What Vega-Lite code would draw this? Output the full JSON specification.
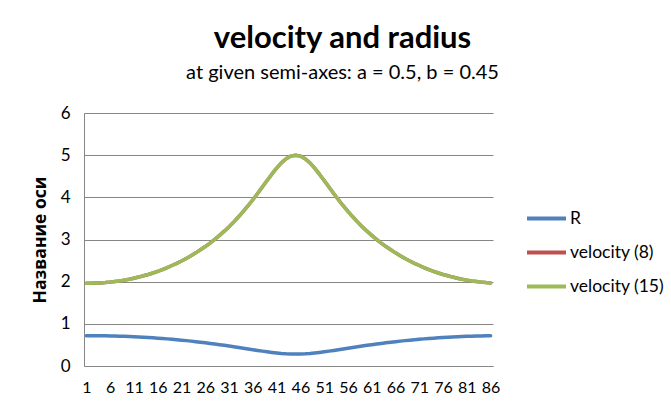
{
  "$schema": "https://vega.github.io/schema/vega-lite/v6.json",
  "width": 409,
  "height": 253,
  "autosize": {"type": "none"},
  "padding": {"left": 84, "top": 113, "right": 178, "bottom": 44},
  "background": "white",
  "title": {
    "text": "velocity and radius",
    "subtitle": "at given semi-axes: a = 0.5, b = 0.45",
    "font": "Lato",
    "fontSize": 31,
    "fontWeight": "bold",
    "color": "black",
    "subtitleFont": "Lato",
    "subtitleFontSize": 20,
    "subtitleColor": "black",
    "anchor": "middle",
    "dx": 54,
    "offset": 20,
    "subtitlePadding": 8
  },
  "data": {"values": [
    {"i":1,"R":0.7178,"v8":1.965,"v15":1.965},
    {"i":2,"R":0.7179,"v8":1.964,"v15":1.964},
    {"i":3,"R":0.7175,"v8":1.967,"v15":1.967},
    {"i":4,"R":0.7165,"v8":1.971,"v15":1.971},
    {"i":5,"R":0.7151,"v8":1.978,"v15":1.978},
    {"i":6,"R":0.7130,"v8":1.989,"v15":1.989},
    {"i":7,"R":0.7103,"v8":2.002,"v15":2.002},
    {"i":8,"R":0.7071,"v8":2.017,"v15":2.017},
    {"i":9,"R":0.7033,"v8":2.036,"v15":2.036},
    {"i":10,"R":0.6990,"v8":2.057,"v15":2.057},
    {"i":11,"R":0.6938,"v8":2.082,"v15":2.082},
    {"i":12,"R":0.6883,"v8":2.109,"v15":2.109},
    {"i":13,"R":0.6823,"v8":2.139,"v15":2.139},
    {"i":14,"R":0.6758,"v8":2.171,"v15":2.171},
    {"i":15,"R":0.6686,"v8":2.206,"v15":2.206},
    {"i":16,"R":0.6607,"v8":2.246,"v15":2.246},
    {"i":17,"R":0.6525,"v8":2.287,"v15":2.287},
    {"i":18,"R":0.6433,"v8":2.334,"v15":2.334},
    {"i":19,"R":0.6336,"v8":2.383,"v15":2.383},
    {"i":20,"R":0.6236,"v8":2.435,"v15":2.435},
    {"i":21,"R":0.6128,"v8":2.491,"v15":2.491},
    {"i":22,"R":0.6016,"v8":2.551,"v15":2.551},
    {"i":23,"R":0.5898,"v8":2.614,"v15":2.614},
    {"i":24,"R":0.5770,"v8":2.683,"v15":2.683},
    {"i":25,"R":0.5640,"v8":2.756,"v15":2.756},
    {"i":26,"R":0.5503,"v8":2.833,"v15":2.833},
    {"i":27,"R":0.5360,"v8":2.916,"v15":2.916},
    {"i":28,"R":0.5212,"v8":3.004,"v15":3.004},
    {"i":29,"R":0.5058,"v8":3.098,"v15":3.098},
    {"i":30,"R":0.4899,"v8":3.198,"v15":3.198},
    {"i":31,"R":0.4736,"v8":3.304,"v15":3.304},
    {"i":32,"R":0.4568,"v8":3.418,"v15":3.418},
    {"i":33,"R":0.4396,"v8":3.538,"v15":3.538},
    {"i":34,"R":0.4222,"v8":3.666,"v15":3.666},
    {"i":35,"R":0.4047,"v8":3.801,"v15":3.801},
    {"i":36,"R":0.3871,"v8":3.943,"v15":3.943},
    {"i":37,"R":0.3698,"v8":4.091,"v15":4.091},
    {"i":38,"R":0.3529,"v8":4.244,"v15":4.244},
    {"i":39,"R":0.3368,"v8":4.398,"v15":4.398},
    {"i":40,"R":0.3219,"v8":4.549,"v15":4.549},
    {"i":41,"R":0.3086,"v8":4.691,"v15":4.691},
    {"i":42,"R":0.2975,"v8":4.816,"v15":4.816},
    {"i":43,"R":0.2891,"v8":4.914,"v15":4.914},
    {"i":44,"R":0.2838,"v8":4.978,"v15":4.978},
    {"i":45,"R":0.2821,"v8":5.000,"v15":5.000},
    {"i":46,"R":0.2838,"v8":4.978,"v15":4.978},
    {"i":47,"R":0.2891,"v8":4.914,"v15":4.914},
    {"i":48,"R":0.2975,"v8":4.816,"v15":4.816},
    {"i":49,"R":0.3086,"v8":4.691,"v15":4.691},
    {"i":50,"R":0.3219,"v8":4.549,"v15":4.549},
    {"i":51,"R":0.3368,"v8":4.398,"v15":4.398},
    {"i":52,"R":0.3529,"v8":4.244,"v15":4.244},
    {"i":53,"R":0.3698,"v8":4.091,"v15":4.091},
    {"i":54,"R":0.3871,"v8":3.943,"v15":3.943},
    {"i":55,"R":0.4047,"v8":3.801,"v15":3.801},
    {"i":56,"R":0.4222,"v8":3.666,"v15":3.666},
    {"i":57,"R":0.4396,"v8":3.538,"v15":3.538},
    {"i":58,"R":0.4568,"v8":3.418,"v15":3.418},
    {"i":59,"R":0.4736,"v8":3.304,"v15":3.304},
    {"i":60,"R":0.4899,"v8":3.198,"v15":3.198},
    {"i":61,"R":0.5058,"v8":3.098,"v15":3.098},
    {"i":62,"R":0.5212,"v8":3.004,"v15":3.004},
    {"i":63,"R":0.5360,"v8":2.916,"v15":2.916},
    {"i":64,"R":0.5503,"v8":2.833,"v15":2.833},
    {"i":65,"R":0.5640,"v8":2.756,"v15":2.756},
    {"i":66,"R":0.5770,"v8":2.683,"v15":2.683},
    {"i":67,"R":0.5898,"v8":2.614,"v15":2.614},
    {"i":68,"R":0.6016,"v8":2.551,"v15":2.551},
    {"i":69,"R":0.6128,"v8":2.491,"v15":2.491},
    {"i":70,"R":0.6236,"v8":2.435,"v15":2.435},
    {"i":71,"R":0.6336,"v8":2.383,"v15":2.383},
    {"i":72,"R":0.6433,"v8":2.334,"v15":2.334},
    {"i":73,"R":0.6525,"v8":2.287,"v15":2.287},
    {"i":74,"R":0.6607,"v8":2.246,"v15":2.246},
    {"i":75,"R":0.6686,"v8":2.206,"v15":2.206},
    {"i":76,"R":0.6758,"v8":2.171,"v15":2.171},
    {"i":77,"R":0.6823,"v8":2.139,"v15":2.139},
    {"i":78,"R":0.6883,"v8":2.109,"v15":2.109},
    {"i":79,"R":0.6938,"v8":2.082,"v15":2.082},
    {"i":80,"R":0.6990,"v8":2.057,"v15":2.057},
    {"i":81,"R":0.7033,"v8":2.036,"v15":2.036},
    {"i":82,"R":0.7071,"v8":2.017,"v15":2.017},
    {"i":83,"R":0.7103,"v8":2.002,"v15":2.002},
    {"i":84,"R":0.7130,"v8":1.989,"v15":1.989},
    {"i":85,"R":0.7151,"v8":1.978,"v15":1.978},
    {"i":86,"R":0.7165,"v8":1.971,"v15":1.971}
  ]},
  "transform": [{"fold": ["R", "v8", "v15"], "as": ["series", "value"]}],
  "mark": {"type": "line", "strokeWidth": 3.5, "strokeCap": "round", "strokeJoin": "round"},
  "encoding": {
    "x": {
      "field": "i",
      "type": "ordinal",
      "scale": {"type": "point", "padding": 0.5},
      "axis": {
        "values": [1, 6, 11, 16, 21, 26, 31, 36, 41, 46, 51, 56, 61, 66, 71, 76, 81, 86],
        "title": null,
        "labelAngle": 0,
        "ticks": false,
        "grid": false,
        "domainColor": "#868686",
        "labelFont": "Lato",
        "labelFontSize": 16,
        "labelColor": "black",
        "labelPadding": 13
      }
    },
    "y": {
      "field": "value",
      "type": "quantitative",
      "scale": {"domain": [0, 6], "nice": false},
      "axis": {
        "values": [0, 1, 2, 3, 4, 5, 6],
        "title": "Название оси",
        "titleFont": "Open Sans",
        "titleFontSize": 17.5,
        "titleFontWeight": "bold",
        "titleColor": "black",
        "titlePadding": 11,
        "labelFont": "Lato",
        "labelFontSize": 17,
        "labelColor": "black",
        "labelPadding": 14,
        "ticks": false,
        "domainColor": "#868686",
        "gridColor": "#868686"
      }
    },
    "color": {
      "field": "series",
      "type": "nominal",
      "scale": {"domain": ["R", "v8", "v15"], "range": ["#4F81BD", "#C0504D", "#9BBB59"]},
      "legend": {
        "orient": "none",
        "legendX": 441,
        "legendY": 84,
        "title": null,
        "padding": 0,
        "symbolType": "stroke",
        "symbolSize": 1521,
        "symbolStrokeWidth": 4,
        "labelFont": "Lato",
        "labelFontSize": 17.5,
        "labelColor": "black",
        "labelOffset": 2,
        "rowPadding": 4,
        "labelExpr": "datum.label == 'v8' ? 'velocity (8)' : datum.label == 'v15' ? 'velocity (15)' : datum.label"
      }
    }
  },
  "config": {"view": {"stroke": null}}
}
